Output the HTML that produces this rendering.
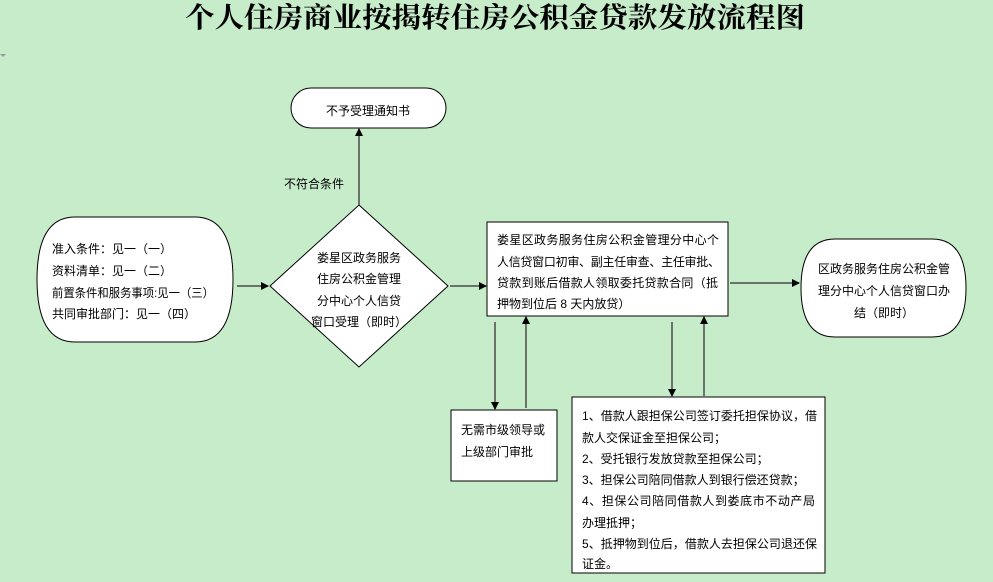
<!DOCTYPE html>
<html><head><meta charset="utf-8"><style>
html,body{margin:0;padding:0;background:#c7ecca;}
svg{display:block;}
text{font-family:"Liberation Sans","Noto Sans CJK SC",sans-serif;font-size:12px;fill:#000;}
.t{font-family:"Liberation Serif","Noto Serif CJK SC",serif;font-size:28px;font-weight:bold;}
</style></head><body>
<svg width="993" height="582" viewBox="0 0 993 582" xmlns="http://www.w3.org/2000/svg">
<defs><marker id="a" markerWidth="8" markerHeight="8" refX="7" refY="4" orient="auto" markerUnits="userSpaceOnUse"><path d="M0,0 L8,4 L0,8 z" fill="#000"/></marker></defs>
<rect width="993" height="582" fill="#c7ecca"/>
<text class="t" x="185" y="27" textLength="620" lengthAdjust="spacingAndGlyphs">个人住房商业按揭转住房公积金贷款发放流程图</text>
<path d="M0,54 L6,54 L3,57 z" fill="#999"/>
<g stroke="#000" stroke-width="1" fill="#fff">
<rect x="291" y="88" width="155" height="40" rx="20" ry="20"/>
<path d="M75,217 L195,217 Q233,217 233,279.5 Q233,342 195,342 L75,342 Q37,342 37,279.5 Q37,217 75,217 z"/>
<path d="M359,205 L448,286 L359,367 L270,286 z"/>
<rect x="487" y="222" width="241" height="94"/>
<path d="M835,239 L932,239 Q966,239 966,288 Q966,337 932,337 L835,337 Q801,337 801,288 Q801,239 835,239 z"/>
<rect x="451" y="410" width="106" height="71"/>
<rect x="572" y="397" width="253" height="176"/>
</g>
<g stroke="#4a4a4a" stroke-width="1.5" fill="none" marker-end="url(#a)">
<line x1="359" y1="205" x2="359" y2="129"/>
<line x1="237" y1="286" x2="268" y2="286"/>
<line x1="450" y1="286" x2="486" y2="286"/>
<line x1="730" y1="283" x2="799" y2="283"/>
<line x1="495" y1="322" x2="495" y2="409"/>
<line x1="526" y1="408" x2="526" y2="317"/>
<line x1="672" y1="322" x2="672" y2="396"/>
<line x1="704" y1="396" x2="704" y2="317"/>
</g>
<text x="368" y="115" text-anchor="middle">不予受理通知书</text>
<text x="284" y="188">不符合条件</text>
<text x="52" y="253">准入条件：见一（一）</text>
<text x="52" y="275">资料清单：见一（二）</text>
<text x="52" y="297" textLength="162" lengthAdjust="spacingAndGlyphs">前置条件和服务事项:见一（三）</text>
<text x="52" y="318">共同审批部门：见一（四）</text>
<g text-anchor="middle">
<text x="359" y="262">娄星区政务服务</text>
<text x="359" y="283">住房公积金管理</text>
<text x="359" y="305">分中心个人信贷</text>
<text x="359" y="326">窗口受理（即时）</text>
<text x="884" y="273">区政务服务住房公积金管</text>
<text x="884" y="295">理分中心个人信贷窗口办</text>
<text x="884" y="317">结（即时）</text>
</g>
<g lengthAdjust="spacingAndGlyphs">
<text x="497" y="244" textLength="222">娄星区政务服务住房公积金管理分中心个</text>
<text x="497" y="266" textLength="223">人信贷窗口初审、副主任审查、主任审批、</text>
<text x="497" y="287" textLength="221">贷款到账后借款人领取委托贷款合同（抵</text>
<text x="497" y="308">押物到位后 8 天内放贷）</text>
<text x="461" y="434">无需市级领导或</text>
<text x="461" y="456">上级部门审批</text>
<text x="582" y="420" textLength="235">1、借款人跟担保公司签订委托担保协议，借</text>
<text x="582" y="442">款人交保证金至担保公司；</text>
<text x="582" y="463">2、受托银行发放贷款至担保公司；</text>
<text x="582" y="484">3、担保公司陪同借款人到银行偿还贷款；</text>
<text x="582" y="505" textLength="233">4、担保公司陪同借款人到娄底市不动产局</text>
<text x="582" y="527">办理抵押；</text>
<text x="582" y="548" textLength="235">5、抵押物到位后，借款人去担保公司退还保</text>
<text x="582" y="568">证金。</text>
</g>
</svg>
</body></html>
